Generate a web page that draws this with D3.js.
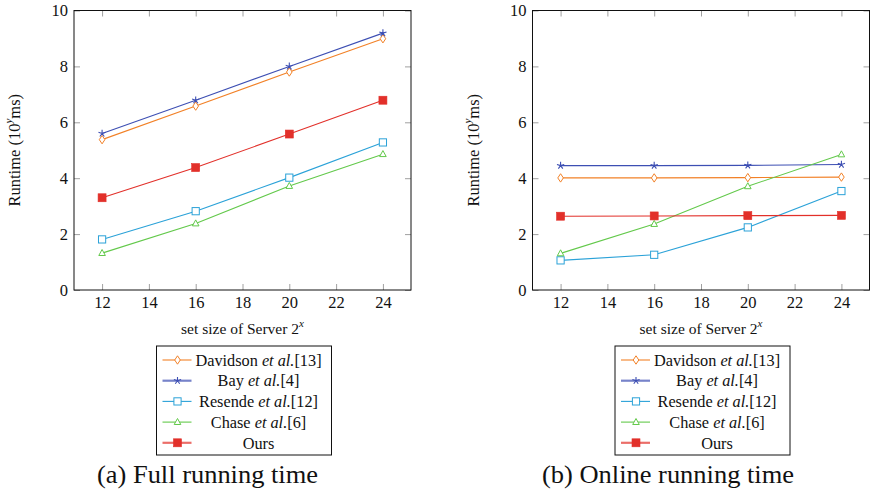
<!DOCTYPE html>
<html><head><meta charset="utf-8">
<script src="https://cdn.jsdelivr.net/npm/d3@7"></script>
<style>
body{margin:0;background:#fff;}
svg{display:block;}
text{font-family:"Liberation Serif","Times New Roman",serif;fill:#111;}
</style></head>
<body>
<svg id="chart" width="871" height="502"></svg>
<script>
// ---- data ----
const xValues = [12, 16, 20, 24];
const xTicks = [12, 14, 16, 18, 20, 22, 24];
const yTicks = [0, 2, 4, 6, 8, 10];
const seriesNames = ["Davidson", "Bay", "Resende", "Chase", "Ours"];
const seriesRefs = ["[13]", "[4]", "[12]", "[6]", ""];
const seriesColors = ["#f28127", "#3d4fb3", "#2ba2d8", "#63c94b", "#e2302a"];
const seriesMarkers = ["diamond", "star", "square", "triangle", "filledSquare"];
// (a) Full running time
const fullDavidson = [5.38, 6.58, 7.8, 8.99];
const fullBay = [5.6, 6.79, 8.0, 9.19];
const fullResende = [1.81, 2.82, 4.02, 5.28];
const fullChase = [1.32, 2.38, 3.72, 4.86];
const fullOurs = [3.3, 4.38, 5.58, 6.79];
// (b) Online running time
const onlineDavidson = [4.01, 4.01, 4.02, 4.04];
const onlineBay = [4.45, 4.45, 4.46, 4.49];
const onlineResende = [1.06, 1.26, 2.24, 3.54];
const onlineChase = [1.31, 2.36, 3.71, 4.85];
const onlineOurs = [2.64, 2.65, 2.66, 2.67];
const panelTitles = ["(a) Full running time", "(b) Online running time"];
const xLabel = "set size of Server 2";

const panels = [
  {left: 74, right: 411, title: panelTitles[0], titleX: 207.5, titleW: 221, data: [fullDavidson, fullBay, fullResende, fullChase, fullOurs]},
  {left: 532.5, right: 869.5, title: panelTitles[1], titleX: 668, titleW: 252, data: [onlineDavidson, onlineBay, onlineResende, onlineChase, onlineOurs]}
];
const plotTop = 10.5, plotBottom = 290;
const serif = "Liberation Serif";
const svg = d3.select("#chart");

function drawMarker(g, type, color) {
  if (type === "diamond") {
    g.append("path").attr("d", "M0,-4.2L2.8,0L0,4.2L-2.8,0Z")
      .attr("fill", "#fff").attr("stroke", color).attr("stroke-width", 1);
  } else if (type === "star") {
    let d = "";
    for (let i = 0; i < 5; i++) {
      const a = -Math.PI / 2 + i * 2 * Math.PI / 5;
      d += "M0,0L" + (3.8 * Math.cos(a)).toFixed(2) + "," + (3.8 * Math.sin(a)).toFixed(2);
    }
    g.append("path").attr("d", d).attr("fill", "none").attr("stroke", color).attr("stroke-width", 1.1);
  } else if (type === "square") {
    g.append("rect").attr("x", -3.6).attr("y", -3.6).attr("width", 7.2).attr("height", 7.2)
      .attr("fill", "#fff").attr("stroke", color).attr("stroke-width", 1);
  } else if (type === "triangle") {
    g.append("path").attr("d", "M0,-3.6L3.3,2.4L-3.3,2.4Z")
      .attr("fill", "#fff").attr("stroke", color).attr("stroke-width", 1);
  } else if (type === "filledSquare") {
    g.append("rect").attr("x", -4).attr("y", -4).attr("width", 8).attr("height", 8)
      .attr("fill", color).attr("stroke", color).attr("stroke-width", 0.6);
  }
}

panels.forEach(p => {
  const x = d3.scaleLinear().domain([10.8, 25.2]).range([p.left, p.right]);
  const y = d3.scaleLinear().domain([0, 10]).range([plotBottom, plotTop]);
  const g = svg.append("g");

  // tick marks (inward on all sides)
  const tickLen = 6, tickCol = "#a0a0a0";
  const bx = g.append("g").attr("transform", `translate(0,${plotBottom})`)
    .call(d3.axisBottom(x).tickValues(xTicks).tickSize(-tickLen).tickPadding(6).tickFormat(d3.format("d")))
    .attr("font-family", serif);
  bx.select(".domain").remove();
  bx.selectAll("line").attr("stroke", tickCol).attr("stroke-width", 1);
  bx.selectAll("text").attr("font-size", 16.5).attr("fill", "#111").attr("font-family", serif);
  const tx = g.append("g").attr("transform", `translate(0,${plotTop})`)
    .call(d3.axisTop(x).tickValues(xTicks).tickSize(-tickLen).tickFormat(""));
  tx.select(".domain").remove();
  tx.selectAll("line").attr("stroke", tickCol);
  const ly = g.append("g").attr("transform", `translate(${p.left},0)`)
    .call(d3.axisLeft(y).tickValues(yTicks).tickSize(-tickLen).tickPadding(6).tickFormat(d3.format("d")))
    .attr("font-family", serif);
  ly.select(".domain").remove();
  ly.selectAll("line").attr("stroke", tickCol);
  ly.selectAll("text").attr("font-size", 16.5).attr("fill", "#111").attr("font-family", serif);
  const ry = g.append("g").attr("transform", `translate(${p.right},0)`)
    .call(d3.axisRight(y).tickValues(yTicks).tickSize(-tickLen).tickFormat(""));
  ry.select(".domain").remove();
  ry.selectAll("line").attr("stroke", tickCol);

  // frame
  g.append("rect").attr("x", p.left).attr("y", plotTop).attr("width", p.right - p.left).attr("height", plotBottom - plotTop)
    .attr("fill", "none").attr("stroke", "#111").attr("stroke-width", 1);

  // series
  const line = d3.line().x((d, i) => x(xValues[i])).y(d => y(d));
  p.data.forEach((vals, si) => {
    g.append("path").datum(vals).attr("d", line).attr("fill", "none")
      .attr("stroke", seriesColors[si]).attr("stroke-width", 1.1);
    vals.forEach((v, i) => {
      const mg = g.append("g").attr("transform", `translate(${x(xValues[i])},${y(v)})`);
      drawMarker(mg, seriesMarkers[si], seriesColors[si]);
    });
  });

  // y label
  const yl = g.append("text").attr("transform", `translate(${p.left - 60},${(plotTop + plotBottom) / 2}) rotate(-90)`)
    .attr("text-anchor", "middle").attr("dominant-baseline", "central").attr("font-size", 16.5).attr("font-family", serif);
  yl.append("tspan").text("Runtime (10");
  yl.append("tspan").attr("font-style", "italic").attr("font-size", 11).attr("dy", -6).text("y");
  yl.append("tspan").attr("dy", 6).text("ms)");

  // x label
  const xl = g.append("text").attr("x", (p.left + p.right) / 2).attr("y", 334)
    .attr("text-anchor", "middle").attr("font-size", 15.5).attr("font-family", serif);
  xl.append("tspan").text(xLabel);
  xl.append("tspan").attr("font-style", "italic").attr("font-size", 11).attr("dy", -7).text("x");

  // legend
  const lx = p.left + 82.5, lt = 346, lw = 175, lh = 109;
  const lg = g.append("g");
  lg.append("rect").attr("x", lx).attr("y", lt).attr("width", lw).attr("height", lh)
    .attr("fill", "#fff").attr("stroke", "#111").attr("stroke-width", 1);
  seriesNames.forEach((name, si) => {
    const cy = lt + 14 + si * 20.7;
    const thick = (si === 1 || si === 4);
    lg.append("line").attr("x1", lx + 6).attr("x2", lx + 35).attr("y1", cy).attr("y2", cy)
      .attr("stroke", seriesColors[si]).attr("stroke-width", thick ? 2.2 : 1.1)
      .attr("stroke-opacity", thick ? 0.7 : 1);
    drawMarker(lg.append("g").attr("transform", `translate(${lx + 21},${cy})`), seriesMarkers[si], seriesColors[si]);
    const t = lg.append("text").attr("x", lx + 102).attr("y", cy).attr("dy", "0.35em")
      .attr("text-anchor", "middle").attr("font-size", 16.3).attr("font-family", serif);
    if (seriesRefs[si]) {
      t.append("tspan").text(name + " ");
      t.append("tspan").attr("font-style", "italic").text("et al.");
      t.append("tspan").text(seriesRefs[si]);
    } else {
      t.append("tspan").text(name);
    }
  });

  // panel title
  g.append("text").attr("x", p.titleX).attr("y", 483).attr("text-anchor", "middle")
    .attr("font-size", 25).attr("font-family", serif)
    .attr("textLength", p.titleW).attr("lengthAdjust", "spacingAndGlyphs").text(p.title);
});
</script>
</body></html>
